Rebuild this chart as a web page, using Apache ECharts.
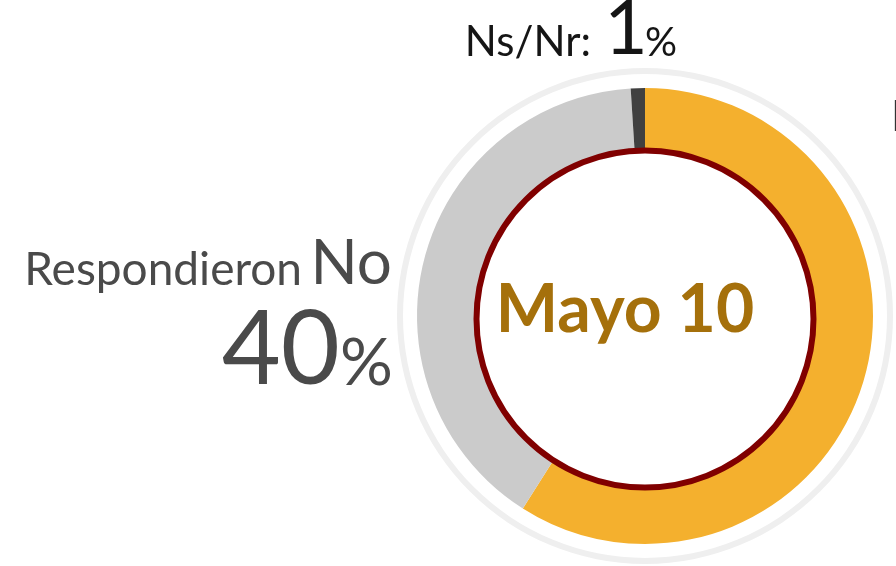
<!DOCTYPE html>
<html>
<head>
<meta charset="utf-8">
<script src="https://cdn.jsdelivr.net/npm/echarts@6/dist/echarts.min.js"></script>
<style>
    html, body {margin: 0; padding: 0; background: #fff;}
    #drawChart {width: 896px; height: 566px;}
</style>
</head>
<body>
<div id="drawChart"></div>
<script>
    //数据
    var categories = ['Respondieron Sí', 'Respondieron No', 'Ns/Nr'];
    var values = [59, 40, 1];
    var sliceColors = ['#F4B02E', '#CBCBCB', '#404040'];
    var centerTitle = 'Mayo 10';

    var font = 'Lato, "Open Sans", sans-serif';
    var grey = '#4a4a4a';

    function txt(text, x, y, size, color, align, weight) {
        return {
            type: 'text', z: 100, silent: true,
            style: {
                text: text, x: x, y: y,
                font: (weight || 'normal') + ' ' + size + 'px ' + font,
                fill: color,
                align: align, textAlign: align,
                verticalAlign: 'middle', textVerticalAlign: 'middle'
            }
        };
    }

    var pieData = [];
    for (var i = 0; i < categories.length; i++) {
        pieData.push({name: categories[i], value: values[i], itemStyle: {color: sliceColors[i]}});
    }

    var myChart = echarts.init(document.getElementById('drawChart'), null, {renderer: 'canvas'});
    var option = {
        animation: false,
        series: [
            //外圈浅灰
            {
                type: 'pie', silent: true,
                center: [645, 316], radius: [242, 248],
                label: {show: false}, labelLine: {show: false},
                data: [{value: 1, itemStyle: {color: '#efefef'}}]
            },
            //主环
            {
                type: 'pie', silent: true,
                center: [645, 316], radius: [160, 228],
                startAngle: 90, clockwise: true,
                label: {show: false}, labelLine: {show: false},
                itemStyle: {borderWidth: 0},
                data: pieData
            }
        ],
        graphic: {
            elements: [
                {
                    type: 'circle', z: 90, silent: true,
                    shape: {cx: 645, cy: 319, r: 168.5},
                    style: {fill: '#fff', stroke: '#800000', lineWidth: 6}
                },
                txt(centerTitle, 625, 311, 66, '#A5700B', 'center', 'bold'),
                //左侧
                txt('Respondieron', 302, 270, 46, grey, 'right'),
                txt('No', 392, 264, 62, grey, 'right'),
                txt(values[1] + '', 340, 351, 102, grey, 'right'),
                txt('%', 393, 364, 66, grey, 'right'),
                //上方
                txt('Ns/Nr:', 591, 42, 42, '#151515', 'right'),
                txt(values[2] + '', 626, 30, 75, '#151515', 'center'),
                txt('%', 645, 43, 40, '#151515', 'left'),
                //右侧 (被裁切)
                txt('Respondieron Sí', 891, 117, 42, '#333', 'left')
            ]
        }
    };
    myChart.setOption(option);
</script>
</body>
</html>
